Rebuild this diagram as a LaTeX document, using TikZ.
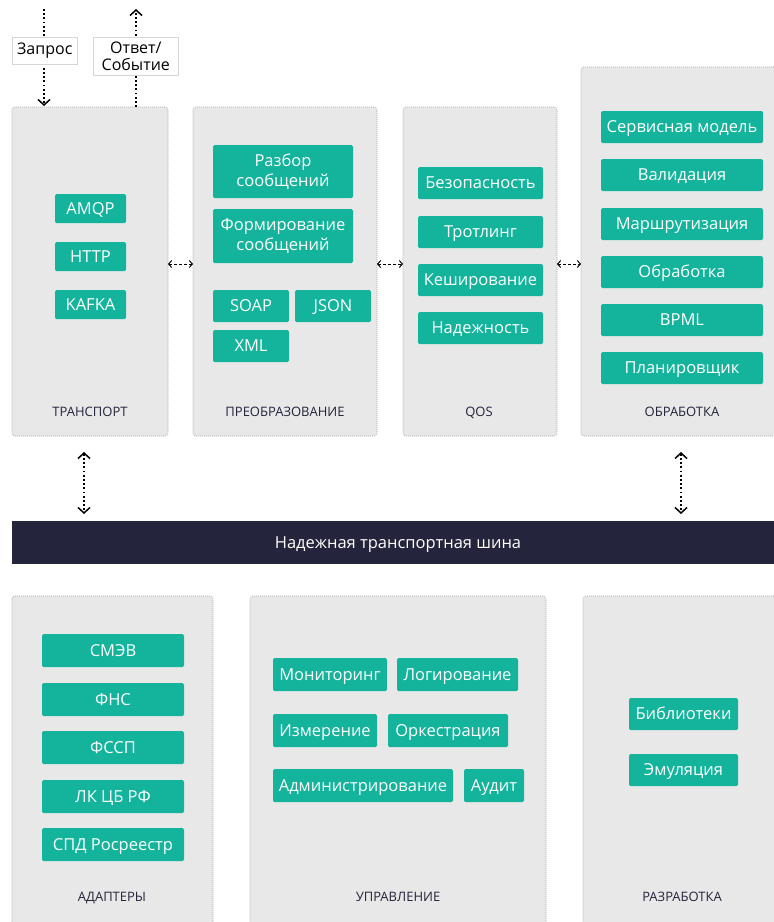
\documentclass[tikz,border=0pt]{standalone}
\usepackage{fontspec}
\setmainfont{Open Sans}
\usetikzlibrary{arrows.meta}
\definecolor{grn}{HTML}{13B49B}
\definecolor{pfill}{HTML}{E8E8E8}
\definecolor{pborder}{HTML}{A9A9A9}
\definecolor{navy}{HTML}{24243C}
\definecolor{lborder}{HTML}{D6D6D6}
\tikzset{
  panel/.style={draw=pborder, fill=pfill, dash pattern=on 1pt off 1pt, line width=0.6pt,
    rounded corners=3pt, inner sep=0pt, outer sep=0pt, anchor=north west},
  gbox2/.style={fill=grn, text=white, rounded corners=1.5pt, inner sep=0pt, outer sep=0pt,
    anchor=north west, align=center, font=\fontsize{16.5}{20.5}\selectfont},
  gbox/.style={gbox2, text height=12pt, text depth=0.2pt},
  plabel/.style={text=navy, font=\fontsize{13}{15}\selectfont, text height=9.3pt, text depth=0pt},
  lbox/.style={fill=white, draw=lborder, line width=0.6pt, inner sep=0pt, align=center,
    font=\fontsize{16}{16.5}\selectfont, anchor=north west},
  dotline/.style={draw=black, line width=1.8pt, dash pattern=on 1.8pt off 2.4pt},
  barb/.tip={Straight Barb[length=5.5pt,width=12pt,line width=1.5pt]},
  smallbarb/.tip={Straight Barb[length=3pt,width=7pt,line width=1pt]},
  hdash/.style={draw=black, line width=0.9pt, dash pattern=on 2.5pt off 2.5pt, smallbarb-smallbarb},
}
\begin{document}
\begin{tikzpicture}[x=1pt,y=-1pt]
\useasboundingbox (0,0) rectangle (774,922);
\clip (0,0) rectangle (774,922);

% ---- top row panels
\node[panel, minimum width=156, minimum height=329] (tr) at (12,107) {};
\node[panel, minimum width=184, minimum height=329] (pr) at (193,107) {};
\node[panel, minimum width=154, minimum height=329] (qs) at (403,107) {};
\node[panel, minimum width=202, minimum height=369] (ob) at (581,67) {};

\node[plabel] (trl) at (90,412) {ТРАНСПОРТ};
\node[plabel] (prl) at (285,412) {ПРЕОБРАЗОВАНИЕ};
\node[plabel] (qsl) at (479,412) {QOS};
\node[plabel] (obl) at (682,412) {ОБРАБОТКА};

% transport
\node[gbox, minimum width=71, minimum height=29] (amqp) at (55,194) {AMQP};
\node[gbox, minimum width=71, minimum height=29] (http) at (55,242) {HTTP};
\node[gbox, minimum width=71, minimum height=29] (kafka) at (55,290) {KAFKA};

% transformation
\node[gbox2, minimum width=140, minimum height=53] (razb) at (213,145) {Разбор\\сообщений};
\node[gbox2, minimum width=140, minimum height=54] (form) at (213,209) {Формирование\\сообщений};
\node[gbox, minimum width=76, minimum height=32] (soap) at (213,290) {SOAP};
\node[gbox, minimum width=76, minimum height=32] (json) at (295,290) {JSON};
\node[gbox, minimum width=76, minimum height=32] (xml) at (213,330) {XML};

% qos
\node[gbox, minimum width=125, minimum height=32] (bez) at (418,167) {Безопасность};
\node[gbox, minimum width=125, minimum height=32] (trot) at (418,216) {Тротлинг};
\node[gbox, minimum width=125, minimum height=32] (kesh) at (418,264) {Кеширование};
\node[gbox, minimum width=125, minimum height=32] (nad) at (418,312) {Надежность};

% processing
\node[gbox, minimum width=162, minimum height=32] (serv) at (601,111) {Сервисная модель};
\node[gbox, minimum width=162, minimum height=32] (val) at (601,159) {Валидация};
\node[gbox, minimum width=162, minimum height=32] (mar) at (601,208) {Маршрутизация};
\node[gbox, minimum width=162, minimum height=32] (obr) at (601,256) {Обработка};
\node[gbox, minimum width=162, minimum height=32] (bpml) at (601,304) {BPML};
\node[gbox, minimum width=162, minimum height=32] (plan) at (601,352) {Планировщик};

% ---- bus
\node[fill=navy, inner sep=0pt, outer sep=0pt, anchor=north west,
  minimum width=775, minimum height=43] (bus) at (12,521) {};
\node[text=white, font=\fontsize{16.5}{19}\selectfont, text height=12pt, text depth=0.2pt] (busl) at (398,542.5) {Надежная транспортная шина};

% ---- bottom panels
\node[panel, minimum width=201, minimum height=340] (ad) at (12,596) {};
\node[panel, minimum width=296, minimum height=340] (up) at (250,596) {};
\node[panel, minimum width=200, minimum height=340] (rz) at (583,596) {};

\node[plabel] (adl) at (112,897) {АДАПТЕРЫ};
\node[plabel] (upl) at (398,897) {УПРАВЛЕНИЕ};
\node[plabel] (rzl) at (682,897) {РАЗРАБОТКА};

% adapters
\node[gbox, minimum width=142, minimum height=33] (smev) at (42,634) {СМЭВ};
\node[gbox, minimum width=142, minimum height=33] (fns) at (42,683) {ФНС};
\node[gbox, minimum width=142, minimum height=33] (fssp) at (42,731) {ФССП};
\node[gbox, minimum width=142, minimum height=33] (lk) at (42,780) {ЛК ЦБ РФ};
\node[gbox, minimum width=142, minimum height=33] (spd) at (42,828) {СПД Росреестр};

% management
\node[gbox, minimum width=114, minimum height=33] (mon) at (273,658) {Мониторинг};
\node[gbox, minimum width=121, minimum height=33] (log) at (397,658) {Логирование};
\node[gbox, minimum width=104, minimum height=33] (izm) at (273,714) {Измерение};
\node[gbox, minimum width=120, minimum height=33] (ork) at (388,714) {Оркестрация};
\node[gbox, minimum width=180, minimum height=33] (adm) at (273,769) {Администрирование};
\node[gbox, minimum width=60, minimum height=33] (aud) at (464,769) {Аудит};

% development
\node[gbox, minimum width=109, minimum height=32] (bib) at (629,698) {Библиотеки};
\node[gbox, minimum width=109, minimum height=32] (emu) at (629,754) {Эмуляция};

% ---- connectors
\draw[hdash] (tr.east |- 0,264) -- (pr.west |- 0,264);
\draw[hdash] (pr.east |- 0,264) -- (qs.west |- 0,264);
\draw[hdash] (qs.east |- 0,264) -- (ob.west |- 0,264);

\draw[dotline, barb-barb, shorten <=16pt, shorten >=7pt] (tr.south -| 84,0) -- (bus.north -| 84,0);
\draw[dotline, barb-barb, shorten <=16pt, shorten >=7pt] (ob.south -| 681,0) -- (bus.north -| 681,0);

\coordinate (zin) at (44,9);
\coordinate (oout) at (136,9);
\draw[dotline, -barb, shorten >=1pt] (zin) -- (tr.north -| zin);
\draw[dotline, -barb] (tr.north -| oout) -- (oout);

\node[lbox, minimum width=65, minimum height=27] (zapros) at (12,37) {Запрос};
\node[lbox, minimum width=85, minimum height=38] (otvet) at (93,37) {Ответ/\\Событие};
\end{tikzpicture}
\end{document}
